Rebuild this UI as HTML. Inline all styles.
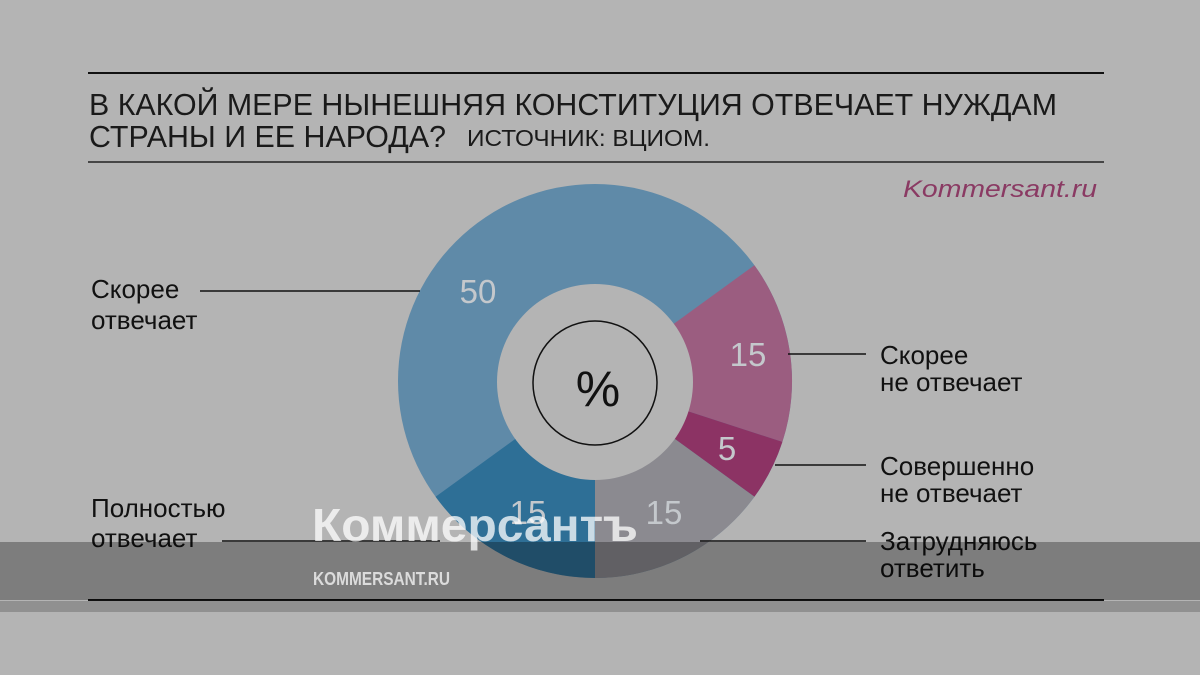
<!DOCTYPE html>
<html><head><meta charset="utf-8"><style>
html,body{margin:0;padding:0;background:#b4b4b4;}
svg{display:block;}
text{font-family:"Liberation Sans",sans-serif;}
.n{font-family:"Liberation Sans Narrow","Liberation Sans",sans-serif;}
</style></head><body>
<svg width="1200" height="675" viewBox="0 0 1200 675" xmlns="http://www.w3.org/2000/svg">
<rect width="1200" height="675" fill="#b4b4b4"/>
<line x1="88" y1="73" x2="1104" y2="73" stroke="#111" stroke-width="2"/>
<text class="n" x="89" y="115" font-size="31" fill="#1a1a1a" textLength="968" lengthAdjust="spacingAndGlyphs">В КАКОЙ МЕРЕ НЫНЕШНЯЯ КОНСТИТУЦИЯ ОТВЕЧАЕТ НУЖДАМ</text>
<text class="n" x="89" y="147" font-size="31" fill="#1a1a1a" textLength="357" lengthAdjust="spacingAndGlyphs">СТРАНЫ И ЕЕ НАРОДА?</text>
<text class="n" x="467" y="146" font-size="23" fill="#1a1a1a" textLength="243" lengthAdjust="spacingAndGlyphs">ИСТОЧНИК: ВЦИОМ.</text>
<line x1="88" y1="162" x2="1104" y2="162" stroke="#222" stroke-width="1.5"/>
<text x="903" y="197" font-size="24" font-style="italic" fill="#8a3a63" textLength="194" lengthAdjust="spacingAndGlyphs">Kommersant.ru</text>

<circle cx="595" cy="381" r="197" fill="#5f8aa8"/>
<path d="M595 381 L595 578 A197 197 0 0 1 435.6 496.8 Z" fill="#2e6f96"/>
<path d="M595 381 L754.4 265.2 A197 197 0 0 1 782.4 441.9 Z" fill="#9b5d80"/>
<path d="M595 381 L782.4 441.9 A197 197 0 0 1 754.4 496.8 Z" fill="#8c3364"/>
<path d="M595 381 L754.4 496.8 A197 197 0 0 1 595 578 Z" fill="#8b8a90"/>
<circle cx="595" cy="382" r="98" fill="#b4b4b4"/>
<circle cx="595" cy="383" r="62" fill="none" stroke="#111" stroke-width="1.5"/>
<text x="598" y="406" font-size="50" text-anchor="middle" fill="#111">%</text>

<g font-size="33" fill="#c4c8cc" text-anchor="middle">
<text x="478" y="303">50</text>
<text x="748" y="366">15</text>
<text x="727" y="460">5</text>
<text x="528" y="524">15</text>
<text x="664" y="524">15</text>
</g>

<g stroke="#111" stroke-width="1.5">
<line x1="200" y1="291" x2="420" y2="291"/>
<line x1="788" y1="354" x2="866" y2="354"/>
<line x1="775" y1="465" x2="866" y2="465"/>
<line x1="222" y1="541" x2="440" y2="541"/>
<line x1="700" y1="541" x2="866" y2="541"/>
</g>
<g font-size="26" fill="#111">
<text x="91" y="298">Скорее</text>
<text x="91" y="329">отвечает</text>
<text x="91" y="517">Полностью</text>
<text x="91" y="547">отвечает</text>
<text x="880" y="364">Скорее</text>
<text x="880" y="391">не отвечает</text>
<text x="880" y="475">Совершенно</text>
<text x="880" y="502">не отвечает</text>
<text x="880" y="550">Затрудняюсь</text>
<text x="880" y="577">ответить</text>
</g>
<line x1="88" y1="600" x2="1104" y2="600" stroke="#111" stroke-width="2"/>

<rect x="0" y="542" width="1200" height="58" fill="rgba(0,0,0,0.3)"/>
<rect x="0" y="601" width="1200" height="11" fill="rgba(0,0,0,0.2)"/>
<text x="312" y="541" font-size="46" font-weight="bold" fill="rgba(255,255,255,0.75)" textLength="326" lengthAdjust="spacingAndGlyphs">Коммерсантъ</text>
<text class="n" x="313" y="585" font-size="18" font-weight="bold" fill="rgba(235,235,235,0.85)" textLength="137" lengthAdjust="spacingAndGlyphs">KOMMERSANT.RU</text>
</svg>
</body></html>
